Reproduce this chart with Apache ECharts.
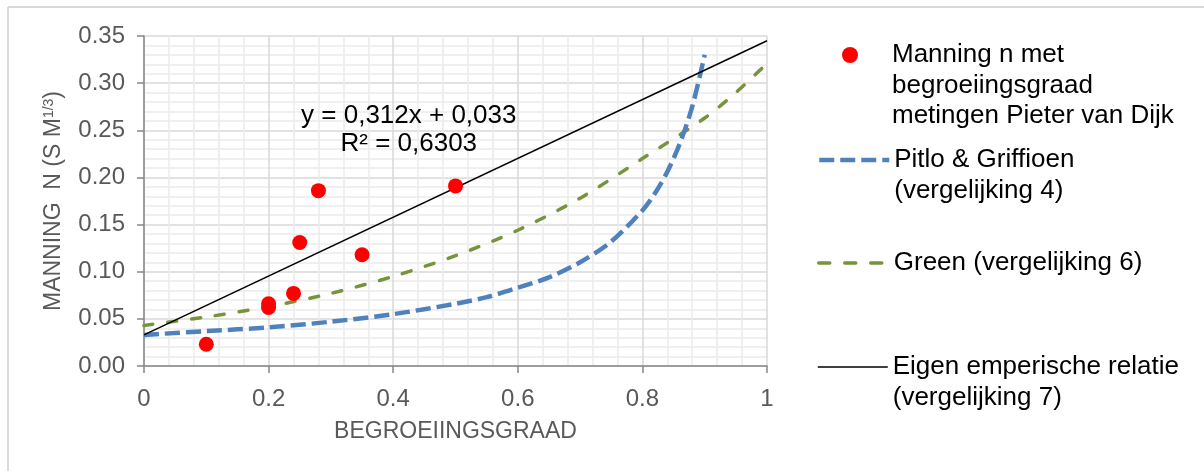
<!DOCTYPE html>
<html>
<head>
<meta charset="utf-8">
<script src="https://cdn.jsdelivr.net/npm/echarts@6/dist/echarts.min.js"></script>
<style>
html,body{margin:0;padding:0;background:#fff;}
#c{width:1204px;height:471px;}
</style>
</head>
<body>
<div id="c"></div>
<script>
// ---- data ----
var measX = [0.10, 0.20, 0.20, 0.24, 0.25, 0.28, 0.35, 0.50];
var measY = [0.023, 0.066, 0.062, 0.077, 0.131, 0.186, 0.118, 0.191];

var pitloX = [0, 0.1, 0.2, 0.3, 0.4, 0.5, 0.55, 0.6, 0.65, 0.7, 0.75, 0.8, 0.82, 0.84, 0.86, 0.88, 0.9];
var pitloY = [0.033, 0.037, 0.041, 0.047, 0.055, 0.066, 0.073, 0.083, 0.094, 0.110, 0.132, 0.165, 0.183, 0.206, 0.236, 0.275, 0.330];

var greenX = [0, 0.1, 0.2, 0.3, 0.4, 0.5, 0.6, 0.7, 0.8, 0.9, 0.95, 1.0];
var greenY = [0.043, 0.052, 0.063, 0.077, 0.095, 0.117, 0.144, 0.178, 0.220, 0.263, 0.290, 0.321];

var trendX = [0, 1];
var trendY = [0.033, 0.345];

var seriesNames = [
  'Manning n met\nbegroeiingsgraad\nmetingen Pieter van Dijk',
  'Pitlo & Griffioen\n(vergelijking 4)',
  'Green (vergelijking 6)',
  'Eigen emperische relatie\n(vergelijking 7)'
];
var equationText = 'y = 0,312x + 0,033\nR² = 0,6303';
var xTitle = 'BEGROEIINGSGRAAD';

function zip(a, b) { return a.map(function (v, i) { return [v, b[i]]; }); }

var FONT = '"Liberation Sans", Arial, sans-serif';
var chart = echarts.init(document.getElementById('c'), null, {renderer: 'canvas'});

var LH = 30.5;
var firstLineCenters = [55, 160, 263, 367];
var legendLineStyles = [
  null,
  {color: '#4f81bd', width: 4.5, type: [15, 6], cap: 'butt'},
  {color: '#77933c', width: 3.5, type: [11, 15], cap: 'round'},
  {color: '#000000', width: 1.5, type: 'solid'}
];
var legends = seriesNames.map(function (name, i) {
  var lines = name.split('\n').length;
  var blank = '';
  for (var k = 1; k < lines; k++) blank += '\n';
  var item = {name: name};
  if (i === 0) {
    // circle centred in a 70x16 icon box
    item.icon = 'path://M0,0M70,16M25,8a8,8 0 1,0 16,0a8,8 0 1,0 -16,0Z';
    item.itemStyle = {color: '#ff0000', opacity: 1};
  } else {
    item.itemStyle = {opacity: 0};
    item.lineStyle = legendLineStyles[i];
  }
  return {
    show: true,
    orient: 'vertical',
    left: 817,
    top: firstLineCenters[i] - LH / 2 - (lines - 1) * LH,
    padding: 0,
    itemWidth: 70,
    itemHeight: 16,
    data: [item],
    formatter: function (n) { return blank + n; },
    textStyle: {
      fontFamily: FONT,
      fontSize: 26,
      color: '#000',
      lineHeight: LH
    },
    selectedMode: false
  };
});

var option = {
  animation: false,
  backgroundColor: '#fff',
  textStyle: {fontFamily: FONT},
  legend: legends,
  grid: {left: 144, right: 437, top: 36, bottom: 105, containLabel: false},
  xAxis: {
    type: 'value',
    min: 0, max: 1, interval: 0.2,
    name: xTitle,
    nameLocation: 'middle',
    nameGap: 54,
    nameTextStyle: {fontFamily: FONT, fontSize: 23, color: '#595959'},
    axisLine: {show: true, onZero: false, lineStyle: {color: '#868686', width: 1.5}},
    axisTick: {show: true, length: 7, lineStyle: {color: '#868686', width: 1.5}},
    axisLabel: {fontFamily: FONT, fontSize: 24, color: '#595959', margin: 21},
    splitLine: {show: true, lineStyle: {color: '#d9d9d9', width: 1.5}},
    minorTick: {show: false, splitNumber: 5},
    minorSplitLine: {show: true, lineStyle: {color: '#ececec', width: 1.5}}
  },
  yAxis: {
    type: 'value',
    min: 0, max: 0.35, interval: 0.05,
    name: '{t|MANNING  N (S M}{s|1/3}{t|)}',
    nameLocation: 'middle',
    nameRotate: 90,
    nameGap: 77,
    nameTextStyle: {
      fontFamily: FONT, fontSize: 23, color: '#595959',
      rich: {
        t: {fontFamily: FONT, fontSize: 23, color: '#595959', lineHeight: 26},
        s: {fontFamily: FONT, fontSize: 14, color: '#595959', lineHeight: 26, padding: [0, 0, 10, 0]}
      }
    },
    axisLine: {show: true, lineStyle: {color: '#868686', width: 1.5}},
    axisTick: {show: true, length: 7, lineStyle: {color: '#868686', width: 1.5}},
    axisLabel: {
      fontFamily: FONT, fontSize: 24, color: '#595959', margin: 19,
      formatter: function (v) { return v.toFixed(2); }
    },
    splitLine: {show: true, lineStyle: {color: '#d9d9d9', width: 1.5}},
    minorTick: {show: false, splitNumber: 5},
    minorSplitLine: {show: true, lineStyle: {color: '#ececec', width: 1.5}}
  },
  series: [
    {
      name: seriesNames[0],
      type: 'scatter',
      data: zip(measX, measY),
      symbol: 'circle',
      symbolSize: 15,
      itemStyle: {color: '#ff0000', opacity: 1},
      z: 10
    },
    {
      name: seriesNames[1],
      type: 'line',
      data: zip(pitloX, pitloY),
      symbol: 'none',
      smooth: 0.3,
      lineStyle: {color: '#4f81bd', width: 4.5, type: [15, 6], cap: 'butt'},
      itemStyle: {color: '#4f81bd'},
      z: 4
    },
    {
      name: seriesNames[2],
      type: 'line',
      data: zip(greenX, greenY),
      symbol: 'none',
      smooth: 0.3,
      lineStyle: {color: '#77933c', width: 3.5, type: [9, 15], cap: 'round'},
      itemStyle: {color: '#77933c'},
      z: 3
    },
    {
      name: seriesNames[3],
      type: 'line',
      data: zip(trendX, trendY),
      symbol: 'none',
      lineStyle: {color: '#000000', width: 1.5, type: 'solid'},
      itemStyle: {color: '#000000'},
      z: 5
    }
  ]
};
chart.setOption(option);

// equation label anchored to data coordinates
var eqPos = chart.convertToPixel({gridIndex: 0}, [0.425, 0.2505]);
chart.setOption({
  graphic: [
    {type: 'line', silent: true, shape: {x1: 8, y1: 7, x2: 1204, y2: 7}, style: {stroke: '#d9d9d9', lineWidth: 2}},
    {type: 'line', silent: true, shape: {x1: 8, y1: 7, x2: 8, y2: 471}, style: {stroke: '#d9d9d9', lineWidth: 2}},
    {
      type: 'text', silent: true, z: 20,
      x: eqPos[0], y: eqPos[1],
      style: {
        text: equationText,
        fill: '#000',
        font: '26px ' + FONT,
        lineHeight: 28,
        align: 'center',
        verticalAlign: 'middle'
      }
    }
  ]
});
</script>
</body>
</html>
